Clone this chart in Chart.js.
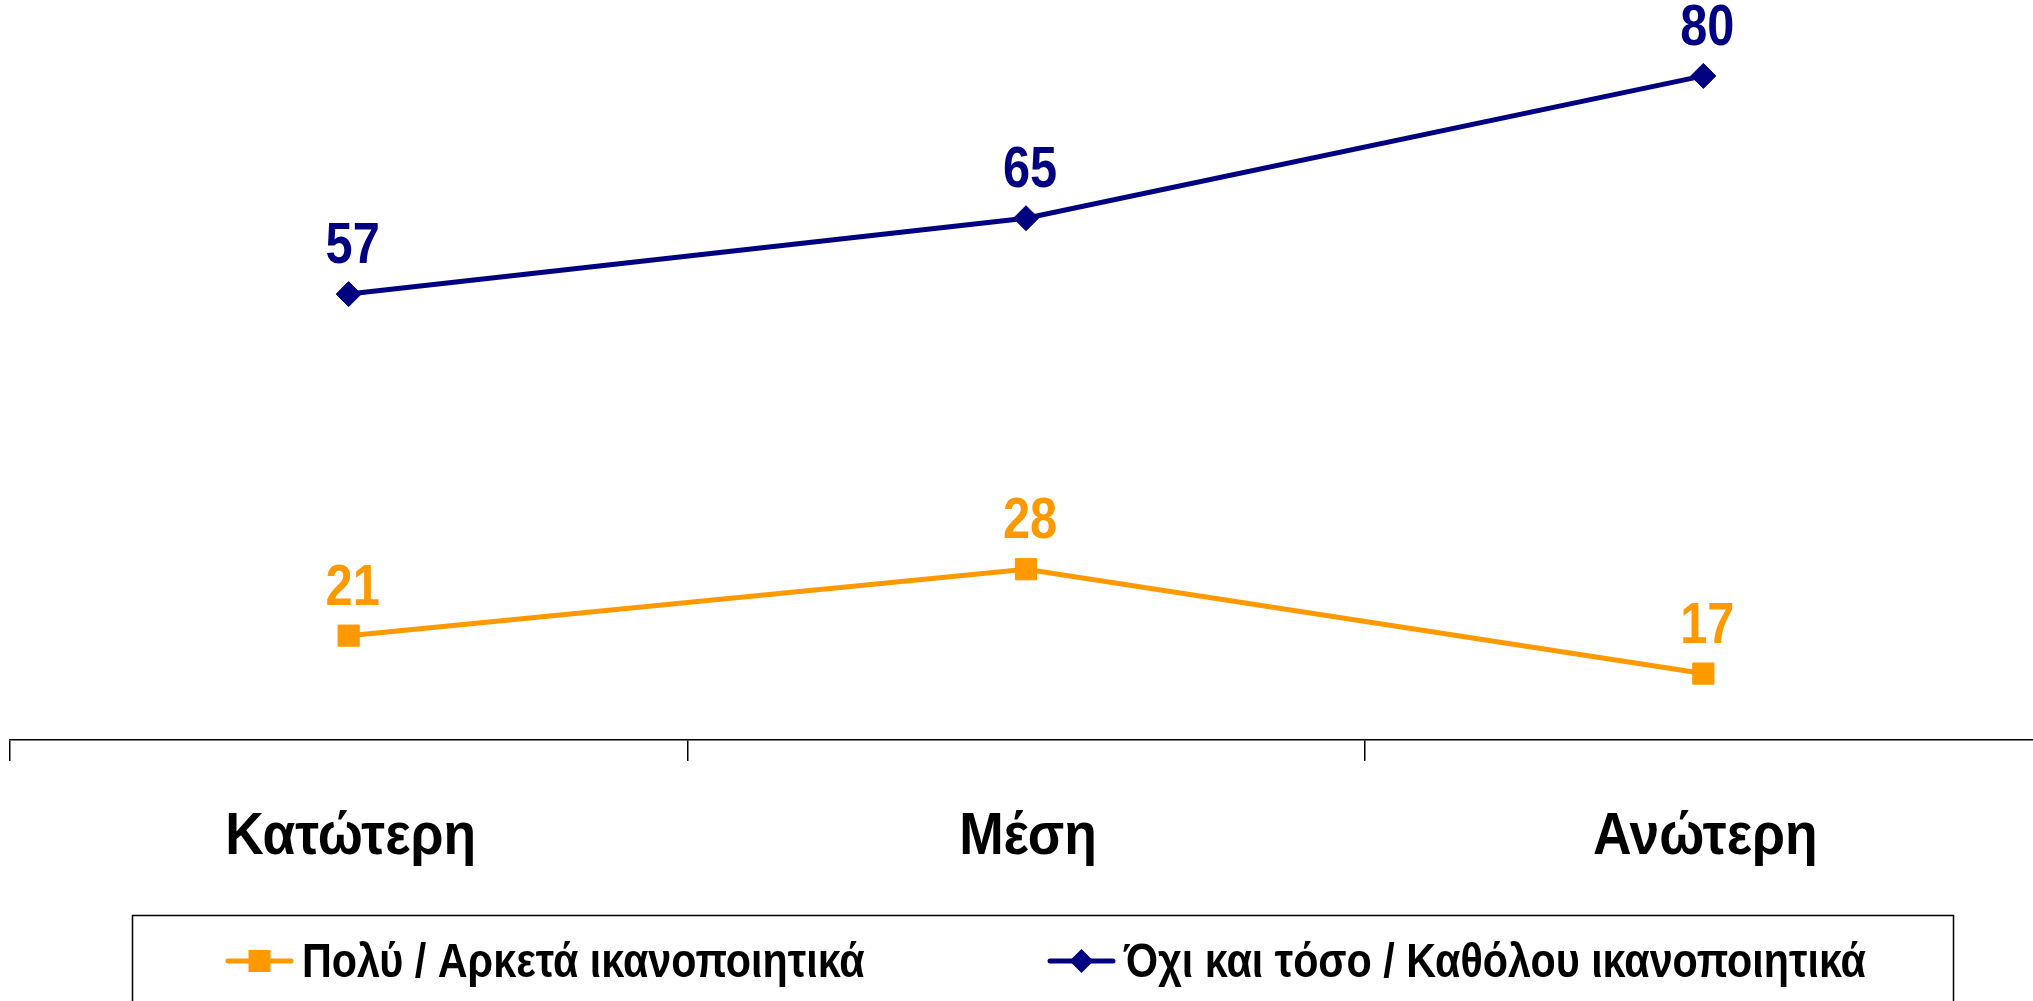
<!DOCTYPE html>
<html>
<head>
<meta charset="utf-8">
<script src="https://cdn.jsdelivr.net/npm/chart.js@4"></script>
<style>
  html, body { margin: 0; padding: 0; background: #fff; overflow: hidden; }
  canvas { display: block; }
</style>
</head>
<body>
<canvas id="chart" width="2042" height="1001"></canvas>
<script>
// data
var categories = ['Κατώτερη', 'Μέση', 'Ανώτερη'];
var seriesNames = ['Πολύ / Αρκετά ικανοποιητικά', 'Όχι και τόσο / Καθόλου ικανοποιητικά'];
var satisfied = [21, 28, 17];
var notSatisfied = [57, 65, 80];

var ORANGE = '#FF9900';
var NAVY = '#000080';
var FONT = '"Liberation Sans", Arial, sans-serif';

// pas de police "narrow" installée : on compresse le texte horizontalement
function narrowText(ctx, text, x, y, align, squeeze) {
    ctx.save();
    ctx.translate(x, y);
    ctx.scale(squeeze, 1);
    ctx.textAlign = align;
    ctx.fillText(text, 0, 0);
    ctx.restore();
}

// etiquettes des valeurs + categories
var valueLabels = {
    id: 'valueLabels',
    afterDatasetsDraw: function (chart) {
        var ctx = chart.ctx;
        ctx.save();
        ctx.font = 'bold 58px ' + FONT;
        ctx.textBaseline = 'alphabetic';
        chart.data.datasets.forEach(function (ds, i) {
            var meta = chart.getDatasetMeta(i);
            ctx.fillStyle = ds.borderColor;
            meta.data.forEach(function (pt, j) {
                narrowText(ctx, String(ds.data[j]), pt.x + 4, pt.y - 31, 'center', 0.84);
            });
        });

        var xs = chart.scales.x;
        ctx.fillStyle = '#000';
        ctx.font = 'bold 60px ' + FONT;
        chart.data.labels.forEach(function (lab, i) {
            narrowText(ctx, lab, xs.getPixelForTick(i) + 2, 854, 'center', 0.89);
        });
        ctx.restore();
    }
};

// legende encadrée en bas
var boxLegend = {
    id: 'boxLegend',
    afterDraw: function (chart) {
        var ctx = chart.ctx;
        ctx.save();
        ctx.strokeStyle = '#000';
        ctx.lineWidth = 1.5;
        ctx.strokeRect(132.5, 915.5, 1821, 200);

        var starts = [228, 1050];
        var y = 961;
        chart.data.datasets.forEach(function (ds, i) {
            var x0 = starts[i];
            ctx.strokeStyle = ds.borderColor;
            ctx.fillStyle = ds.borderColor;
            ctx.lineWidth = 5;
            ctx.lineCap = 'round';
            ctx.beginPath();
            ctx.moveTo(x0, y);
            ctx.lineTo(x0 + 63, y);
            ctx.stroke();
            var cx = x0 + 31.5;
            if (ds.pointStyle === 'rect') {
                ctx.fillRect(cx - 11, y - 11, 22, 22);
            } else {
                ctx.beginPath();
                ctx.moveTo(cx, y - 12);
                ctx.lineTo(cx + 12, y);
                ctx.lineTo(cx, y + 12);
                ctx.lineTo(cx - 12, y);
                ctx.closePath();
                ctx.fill();
            }
            ctx.fillStyle = '#000';
            ctx.font = 'bold 48px ' + FONT;
            ctx.textBaseline = 'alphabetic';
            narrowText(ctx, ds.label, x0 + 74, 977, 'left', 0.86);
        });
        ctx.restore();
    }
};

var ctx = document.getElementById('chart').getContext('2d');
var chart = new Chart(ctx, {
    type: 'line',
    data: {
        labels: categories,
        datasets: [
            {
                label: seriesNames[0],
                data: satisfied,
                borderColor: ORANGE,
                backgroundColor: ORANGE,
                borderWidth: 5,
                pointStyle: 'rect',
                pointRadius: 15,
                pointBorderWidth: 1,
                tension: 0
            },
            {
                label: seriesNames[1],
                data: notSatisfied,
                borderColor: NAVY,
                backgroundColor: NAVY,
                borderWidth: 5,
                pointStyle: 'rectRot',
                pointRadius: 12.5,
                pointBorderWidth: 1,
                tension: 0
            }
        ]
    },
    options: {
        responsive: false,
        animation: false,
        devicePixelRatio: 1,
        layout: { autoPadding: false, padding: { left: 10, right: 0, top: 0, bottom: 0 } },
        plugins: {
            legend: { display: false },
            tooltip: { enabled: false }
        },
        scales: {
            x: {
                offset: true,
                afterFit: function (scale) { scale.height = 261; },
                border: { display: true, color: '#000', width: 1.5 },
                grid: {
                    offset: true,
                    drawOnChartArea: false,
                    drawTicks: true,
                    tickLength: 21,
                    color: '#000',
                    lineWidth: 1.5
                },
                ticks: {
                    color: 'rgba(0,0,0,0)',
                    maxRotation: 0,
                    font: { family: FONT, size: 20 }
                }
            },
            y: {
                display: false,
                min: 10,
                max: 88
            }
        }
    },
    plugins: [valueLabels, boxLegend]
});
</script>
</body>
</html>
